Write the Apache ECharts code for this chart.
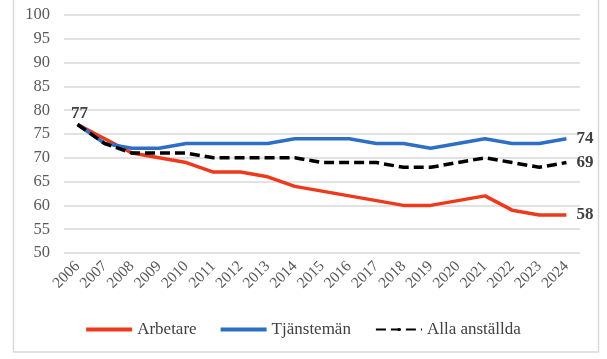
<!DOCTYPE html>
<html><head><meta charset="utf-8">
<script src="https://cdn.jsdelivr.net/npm/echarts@6/dist/echarts.min.js"></script>
<style>html,body{margin:0;padding:0;background:#fff}#c{width:607px;height:359px}</style>
</head><body><div id="c"></div>
<script>
var years = ['2006','2007','2008','2009','2010','2011','2012','2013','2014','2015','2016','2017','2018','2019','2020','2021','2022','2023','2024'];
var arbetare = [77,74,71,70,69,67,67,66,64,63,62,61,60,60,61,62,59,58,58];
var tjansteman = [77,73,72,72,73,73,73,73,74,74,74,73,73,72,73,74,73,73,74];
var alla = [77,73,71,71,71,70,70,70,70,69,69,69,68,68,69,70,69,68,69];
var yTicks = [50,100,5];

var font = 'Liberation Serif';
var lblStyle = {color:'#404040', fontWeight:'bold', fontSize:17, fontFamily:font};
function endLabel(){
  return Object.assign({show:true, formatter:function(p){return p.value;}, distance:10}, lblStyle);
}
var chart = echarts.init(document.getElementById('c'), null, {renderer:'canvas'});
chart.setOption({
  animation:false,
  textStyle:{fontFamily:font},
  graphic:[{type:'rect', shape:{x:13.5,y:-5,width:585,height:357}, style:{fill:'none', stroke:'#d9d9d9', lineWidth:1.5}, silent:true}],
  grid:{left:64, right:27, top:15, bottom:106, containLabel:false},
  legend:{top:316, left:'center', itemWidth:46, itemHeight:4, itemGap:24,
    textStyle:{fontFamily:font, fontSize:17, color:'#404040'},
    data:[{name:'Arbetare', icon:'rect'},{name:'Tjänstemän', icon:'rect'},{name:'Alla anställda'}]},
  xAxis:{type:'category', data:years, boundaryGap:true,
    axisLine:{show:false}, axisTick:{show:false},
    axisLabel:{rotate:45, fontSize:15.5, color:'#595959', fontFamily:font, margin:11, interval:0}},
  yAxis:{type:'value', min:yTicks[0], max:yTicks[1], interval:yTicks[2],
    axisLine:{show:false}, axisTick:{show:false},
    splitLine:{lineStyle:{color:'#d9d9d9', width:1.5}},
    axisLabel:{fontSize:16.5, color:'#595959', fontFamily:font, margin:14}},
  series:[
    {name:'Arbetare', type:'line', data:arbetare, symbol:'none', z:2,
      lineStyle:{color:'#ee3a1c', width:3.5}, itemStyle:{color:'#ee3a1c'},
      endLabel:endLabel()},
    {name:'Tjänstemän', type:'line', data:tjansteman, symbol:'none', z:3,
      lineStyle:{color:'#2e6fc3', width:3.5}, itemStyle:{color:'#2e6fc3'},
      endLabel:endLabel()},
    {name:'Alla anställda', type:'line', symbol:'circle', symbolSize:0.01, showSymbol:true, z:4,
      lineStyle:{color:'#000', width:3.5, type:[10,5]}, itemStyle:{color:'#000'},
      data: alla.map(function(v,i){
        if(i===0) return {value:v, label:Object.assign({show:true, position:'top', distance:2, offset:[2,0], formatter:'{c}'}, lblStyle)};
        return v;}),
      endLabel:endLabel()}
  ]
});
</script></body></html>
